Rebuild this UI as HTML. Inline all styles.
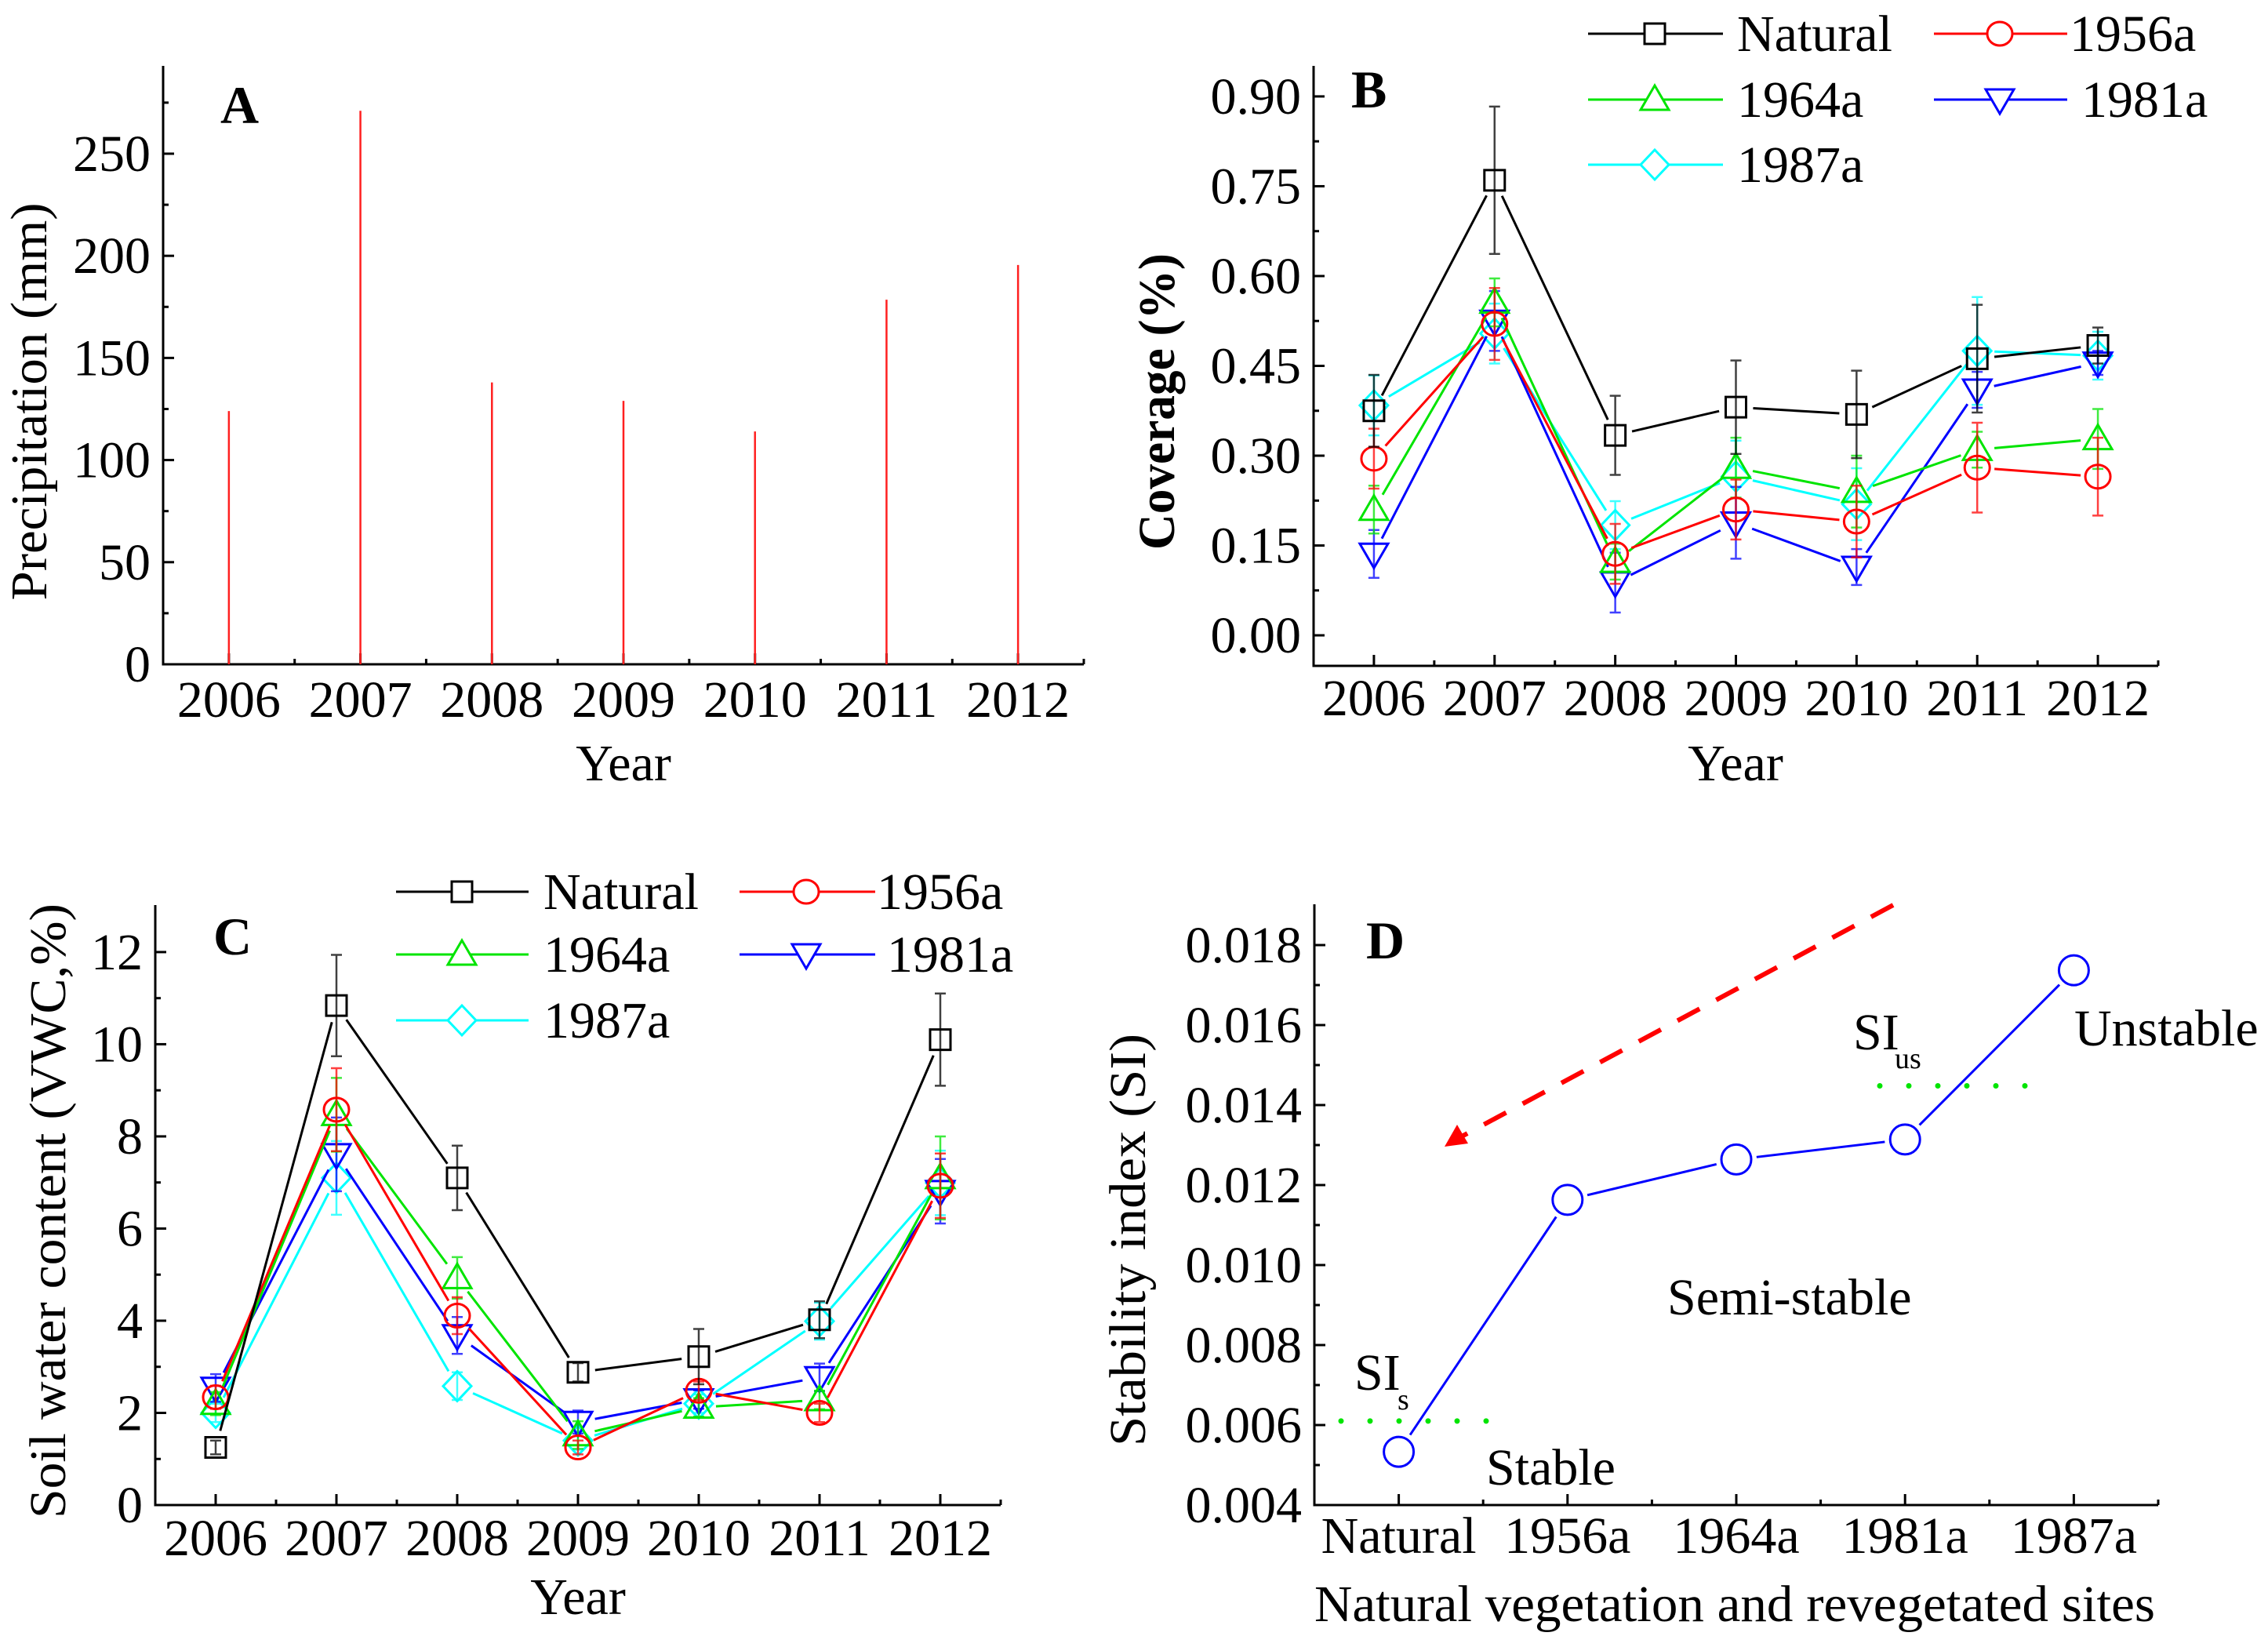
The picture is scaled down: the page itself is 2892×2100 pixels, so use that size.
<!DOCTYPE html>
<html><head><meta charset="utf-8"><style>
html,body{margin:0;padding:0;background:#fff;}
svg{display:block;font-family:"Liberation Serif","Times New Roman",serif;}
</style></head><body>
<svg id="fig" width="2892" height="2100" viewBox="0 0 2892 2100" xmlns="http://www.w3.org/2000/svg">
<rect width="2892" height="2100" fill="#fff"/>
<!-- static labels -->
<text x="281" y="157" font-size="68" font-weight="bold">A</text>
<text x="1723" y="137" font-size="68" font-weight="bold">B</text>
<text x="272" y="1217" font-size="68" font-weight="bold">C</text>
<text x="1742" y="1222" font-size="68" font-weight="bold">D</text>

<text x="795" y="995" font-size="66" text-anchor="middle">Year</text>
<text x="2213" y="995" font-size="66" text-anchor="middle">Year</text>
<text x="737" y="2058" font-size="66" text-anchor="middle">Year</text>
<text x="1676" y="2067" font-size="66" textLength="1072" lengthAdjust="spacingAndGlyphs">Natural vegetation and revegetated sites</text>

<text transform="translate(59,512) rotate(-90)" font-size="66" text-anchor="middle" textLength="507" lengthAdjust="spacingAndGlyphs">Precipitation (mm)</text>
<text transform="translate(1497,512) rotate(-90)" font-size="66" font-weight="bold" text-anchor="middle" textLength="378" lengthAdjust="spacingAndGlyphs">Coverage (%)</text>
<text transform="translate(83,1544) rotate(-90)" font-size="66" text-anchor="middle" textLength="784" lengthAdjust="spacingAndGlyphs">Soil water content (VWC,%)</text>
<text transform="translate(1460,1581) rotate(-90)" font-size="66" text-anchor="middle" textLength="526" lengthAdjust="spacingAndGlyphs">Stability index (SI)</text>

<text x="2363" y="1338" font-size="66">SI</text>
<text x="2416" y="1362" font-size="38">us</text>
<text x="2645" y="1333" font-size="66">Unstable</text>
<text x="2126" y="1676" font-size="66">Semi-stable</text>
<text x="1727" y="1772" font-size="66">SI</text>
<text x="1782" y="1797" font-size="38">s</text>
<text x="1895" y="1893" font-size="66">Stable</text>

<line x1="2414" y1="1154" x2="1862" y2="1450" stroke="#ff0000" stroke-width="6" stroke-dasharray="32,24"/>
<polygon points="1842,1462 1858,1434 1872,1458" fill="#ff0000"/>
</svg>
<script>
// ---------- DATA ----------
const years = ['2006','2007','2008','2009','2010','2011','2012'];
const precip = [124, 271, 138, 129, 114, 178.5, 195.5];
const precipTicks = ['0','50','100','150','200','250'];

const seriesNames = ['Natural','1956a','1964a','1981a','1987a'];
const covNatural = [0.375, 0.760, 0.334, 0.381, 0.369, 0.462, 0.484];
const covNaturalErr = [0.06, 0.123, 0.066, 0.078, 0.073, 0.09, 0.03];
const cov1956 = [0.295, 0.520, 0.136, 0.210, 0.190, 0.280, 0.265];
const cov1956Err = [0.05, 0.06, 0.05, 0.05, 0.06, 0.075, 0.065];
const cov1964 = [0.210, 0.556, 0.123, 0.280, 0.240, 0.310, 0.328];
const cov1964Err = [0.04, 0.04, 0.03, 0.05, 0.06, 0.03, 0.05];
const cov1981 = [0.136, 0.525, 0.088, 0.188, 0.114, 0.410, 0.455];
const cov1981Err = [0.04, 0.05, 0.05, 0.06, 0.03, 0.03, 0.02];
const cov1987 = [0.384, 0.504, 0.184, 0.265, 0.219, 0.475, 0.467];
const cov1987Err = [0.05, 0.05, 0.04, 0.06, 0.06, 0.09, 0.04];
const covTicks = ['0.00','0.15','0.30','0.45','0.60','0.75','0.90'];

const swcNatural = [1.25, 10.84, 7.10, 2.88, 3.22, 4.02, 10.10];
const swcNaturalErr = [0.15, 1.1, 0.7, 0.2, 0.6, 0.4, 1.0];
const swc1956 = [2.34, 8.58, 4.11, 1.25, 2.48, 2.00, 6.93];
const swc1956Err = [0.25, 0.9, 0.4, 0.15, 0.2, 0.2, 0.7];
const swc1964 = [2.20, 8.47, 4.93, 1.52, 2.12, 2.28, 7.10];
const swc1964Err = [0.25, 0.8, 0.45, 0.3, 0.2, 0.2, 0.9];
const swc1981 = [2.54, 7.61, 3.68, 1.80, 2.29, 2.77, 6.81];
const swc1981Err = [0.3, 0.8, 0.4, 0.25, 0.2, 0.3, 0.7];
const swc1987 = [2.00, 7.10, 2.58, 1.40, 2.20, 3.99, 6.99];
const swc1987Err = [0.2, 0.8, 0.3, 0.2, 0.2, 0.4, 0.7];
const swcTicks = ['0','2','4','6','8','10','12'];

const siSites = ['Natural','1956a','1964a','1981a','1987a'];
const siValues = [0.00533, 0.01163, 0.01264, 0.01314, 0.01737];
const siTicks = ['0.004','0.006','0.008','0.010','0.012','0.014','0.016','0.018'];
const siStableThreshold = 0.0061;
const siUnstableThreshold = 0.01448;

// ---------- HELPERS ----------
const svg = document.getElementById('fig');
const NS = 'http://www.w3.org/2000/svg';
function mk(tag, attrs){ const e=document.createElementNS(NS,tag); for(const k in attrs) e.setAttribute(k,attrs[k]); svg.appendChild(e); return e; }

const PA = {x0:208, x1:1382, yb:847, yt:84, vmin:0, vmax:293, n:7};
const PB = {x0:1675, x1:2752, yb:849, yt:84, vmin:-0.051, vmax:0.951, n:7};
const PC = {x0:198, x1:1276, yb:1919, yt:1154, vmin:0, vmax:13.02, n:7};
const PD = {x0:1676, x1:2752, yb:1919, yt:1153, vmin:0.004, vmax:0.01902, n:5};
function xAt(p,i){ return p.x0 + (i+0.5)*(p.x1-p.x0)/p.n; }
function yAt(p,v){ return p.yb - (v-p.vmin)/(p.vmax-p.vmin)*(p.yb-p.yt); }

function drawAxes(p, ticks, minorStep, cats, name, catLabelY){
  const ax = mk('path',{d:`M${p.x0},${p.yt} L${p.x0},${p.yb} L${p.x1},${p.yb}`, fill:'none', stroke:'#000','stroke-width':3});
  
  
  ticks.forEach((t)=>{
    const v=parseFloat(t), y=yAt(p,v);
    const tk=mk('line',{x1:p.x0,y1:y,x2:p.x0+14,y2:y,stroke:'#000','stroke-width':3});
    
    
    const tl=mk('text',{x:p.x0-16,y:y+22,'font-size':66,'text-anchor':'end'});
    tl.textContent=t;
    
    
    const vm=v+minorStep, ym=yAt(p,vm);
    if(ym>p.yt+2){
      const mt=mk('line',{x1:p.x0,y1:ym,x2:p.x0+7,y2:ym,stroke:'#000','stroke-width':3});
      
      
    }
  });
  cats.forEach((c,i)=>{
    const x=xAt(p,i);
    const tk=mk('line',{x1:x,y1:p.yb,x2:x,y2:p.yb-14,stroke:'#000','stroke-width':3});
    
    
    const xm=p.x0+(i+1)*(p.x1-p.x0)/p.n;
    const mt=mk('line',{x1:xm,y1:p.yb,x2:xm,y2:p.yb-7,stroke:'#000','stroke-width':3});
    
    
    const tl=mk('text',{x:x,y:catLabelY,'font-size':66,'text-anchor':'middle'});
    tl.textContent=c;
    
    
  });
}

function markerPath(shape, x, y){
  if(shape==='square') return `M${x-13},${y-13}h26v26h-26z`;
  if(shape==='circle') return `M${x-16},${y}a16,15 0 1,0 32,0a16,15 0 1,0 -32,0z`;
  if(shape==='up') return `M${x},${y-18}L${x+18},${y+13}L${x-18},${y+13}z`;
  if(shape==='down') return `M${x},${y+18}L${x+18},${y-13}L${x-18},${y-13}z`;
  return `M${x},${y-19}L${x+18},${y}L${x},${y+19}L${x-18},${y}z`;
}
const colors = ['#000000','#ff0000','#00e400','#0000ff','#00ffff'];
const shapes = ['square','circle','up','down','diamond'];

function drawSeries(p, vals, errs, k, name){
  const c=colors[k];
  vals.forEach((v,i)=>{
    const x=xAt(p,i);
    const e=mk('path',{d:`M${x},${yAt(p,v+errs[i])}V${yAt(p,v-errs[i])}M${x-7},${yAt(p,v+errs[i])}h14M${x-7},${yAt(p,v-errs[i])}h14`,stroke:c,'stroke-width':2.5,fill:'none','stroke-opacity':0.75});
    
    
  });
  let d='';
  for(let i=0;i<vals.length-1;i++){
    const xa=xAt(p,i), ya=yAt(p,vals[i]), xb=xAt(p,i+1), yb=yAt(p,vals[i+1]);
    const L=Math.hypot(xb-xa,yb-ya), g=Math.min(22,L/3), ux=(xb-xa)/L, uy=(yb-ya)/L;
    d+=`M${xa+ux*g},${ya+uy*g}L${xb-ux*g},${yb-uy*g}`;
  }
  const ln=mk('path',{d:d,stroke:c,'stroke-width':3,fill:'none'});
  
  
  vals.forEach((v,i)=>{
    const m=mk('path',{d:markerPath(shapes[k],xAt(p,i),yAt(p,v)),stroke:c,'stroke-width':3,fill:'none'});
    
    
  });
}

function drawLegend(rows, cols, name){
  seriesNames.forEach((s,k)=>{
    const col=[0,1,0,1,0][k], row=[0,0,1,1,2][k];
    const y=rows[row], c=cols[col];
    const ln=mk('line',{x1:c.l0,y1:y,x2:c.l1,y2:y,stroke:colors[k],'stroke-width':3});
    
    
    const m=mk('path',{d:markerPath(shapes[k],c.m,y),stroke:colors[k],'stroke-width':3,fill:'#fff'});
    
    
    const t=mk('text',{x:(k===3?c.t2:c.t),y:y+22,'font-size':66});
    t.textContent=s;
    
    
  });
}

// ---------- PANEL A ----------
drawAxes(PA, precipTicks, 25, years, 'a', 914);
precip.forEach((v,i)=>{
  const b=mk('line',{x1:xAt(PA,i),y1:yAt(PA,0),x2:xAt(PA,i),y2:yAt(PA,v),stroke:'#ff2020','stroke-width':2.5});
  
  
});

// ---------- PANEL B ----------
drawAxes(PB, covTicks, 0.075, years, 'b', 912);
drawSeries(PB, cov1987, cov1987Err, 4, 'b-1987a');
drawSeries(PB, cov1981, cov1981Err, 3, 'b-1981a');
drawSeries(PB, cov1964, cov1964Err, 2, 'b-1964a');
drawSeries(PB, cov1956, cov1956Err, 1, 'b-1956a');
drawSeries(PB, covNatural, covNaturalErr, 0, 'b-natural');
drawLegend([43,127,210], [{l0:2025,l1:2197,m:2110,t:2215,t2:2215},{l0:2466,l1:2636,m:2550,t:2639,t2:2654}], 'b');

// ---------- PANEL C ----------
drawAxes(PC, swcTicks, 1, years, 'c', 1983);
drawSeries(PC, swc1987, swc1987Err, 4, 'c-1987a');
drawSeries(PC, swc1981, swc1981Err, 3, 'c-1981a');
drawSeries(PC, swc1964, swc1964Err, 2, 'c-1964a');
drawSeries(PC, swc1956, swc1956Err, 1, 'c-1956a');
drawSeries(PC, swcNatural, swcNaturalErr, 0, 'c-natural');
drawLegend([1137,1217,1301], [{l0:505,l1:674,m:589,t:693,t2:693},{l0:943,l1:1116,m:1028,t:1118,t2:1131}], 'c');

// ---------- PANEL D ----------
drawAxes(PD, siTicks, 0.001, siSites, 'd', 1980);
const th1=mk('line',{x1:1710,y1:yAt(PD,siStableThreshold),x2:1904,y2:yAt(PD,siStableThreshold),stroke:'#00e400','stroke-width':7,'stroke-linecap':'round','stroke-dasharray':'0,37'});


const th2=mk('line',{x1:2397,y1:yAt(PD,siUnstableThreshold),x2:2590,y2:yAt(PD,siUnstableThreshold),stroke:'#00e400','stroke-width':7,'stroke-linecap':'round','stroke-dasharray':'0,37'});


let dd='';
for(let i=0;i<siValues.length-1;i++){
  const xa=xAt(PD,i), ya=yAt(PD,siValues[i]), xb=xAt(PD,i+1), yb=yAt(PD,siValues[i+1]);
  const L=Math.hypot(xb-xa,yb-ya), ux=(xb-xa)/L, uy=(yb-ya)/L;
  dd+=`M${xa+ux*26},${ya+uy*26}L${xb-ux*26},${yb-uy*26}`;
}
const sl=mk('path',{d:dd,stroke:'#0000ff','stroke-width':3,fill:'none'});


siValues.forEach((v,i)=>{
  const c=mk('circle',{cx:xAt(PD,i),cy:yAt(PD,v),r:19,stroke:'#0000ff','stroke-width':3,fill:'none'});
  
  
});
</script>
</body></html>
